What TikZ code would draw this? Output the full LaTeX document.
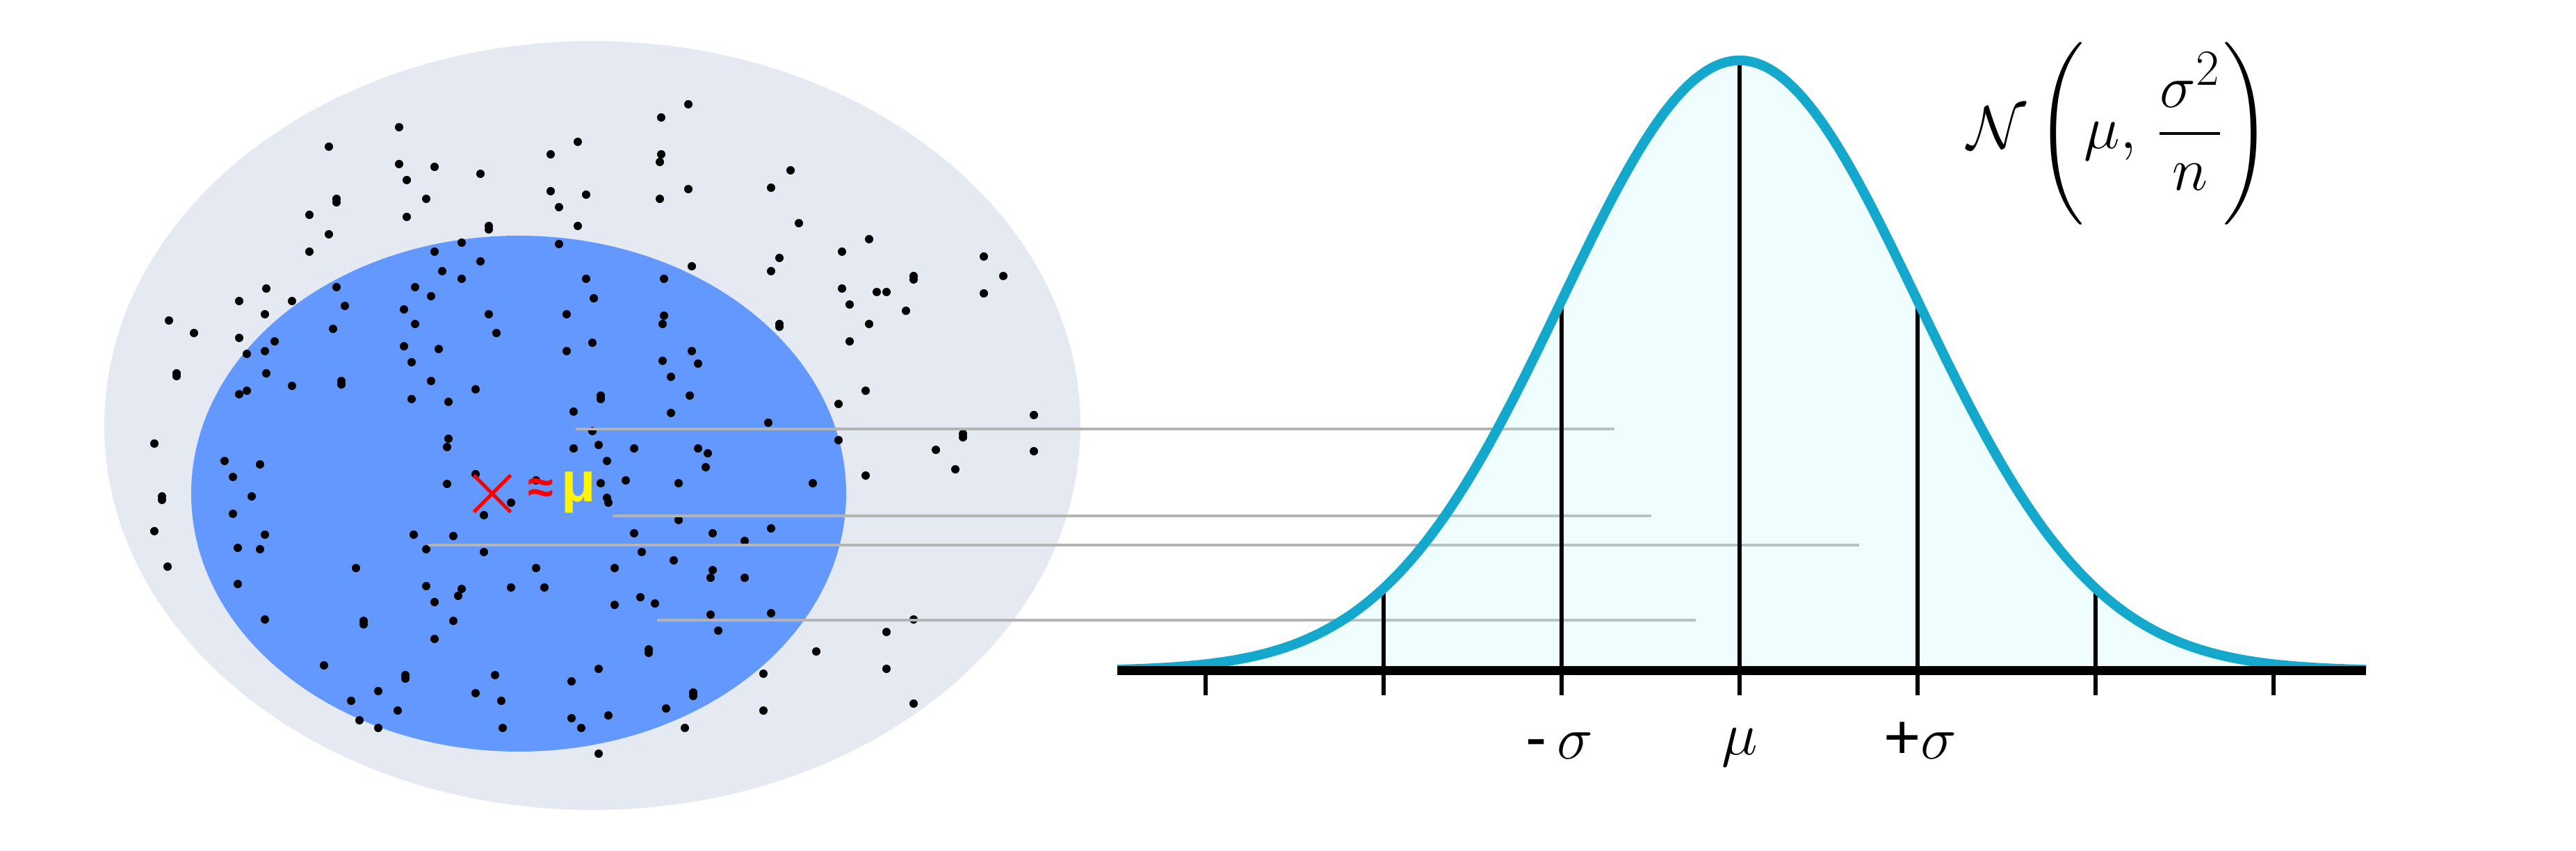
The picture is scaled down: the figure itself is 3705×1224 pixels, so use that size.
\documentclass[tikz,border=0pt]{standalone}
\usepackage{amsmath}
\usepackage{fontspec}
\usepackage{tikz}
\usetikzlibrary{shapes.misc}
\newfontfamily\labelfont{Liberation Sans}

\definecolor{popcol}{HTML}{E5E9F2}
\definecolor{samplecol}{HTML}{6399FF}
\definecolor{bellcol}{HTML}{14A8CC}
\definecolor{bellfill}{HTML}{B4F5FA}
\definecolor{guidecol}{HTML}{B4B4B4}
\definecolor{meancol}{HTML}{FFF500}

\tikzset{
  dot/.style={fill=black},
  guide/.style={draw=guidecol, line width=0.45mm},
  bell/.style={draw=bellcol, line width=1.4mm, line join=round},
  sdline/.style={draw=black, line width=0.55mm},
  axis/.style={draw=black, line width=1.3mm},
  lbl/.style={font=\fontsize{26}{30}\selectfont, inner sep=0pt}
}

\begin{document}
\begin{tikzpicture}[x=0.1mm, y=-0.1mm]
  \useasboundingbox (0,0) rectangle (3705,1224);
  % population and sample
  \fill[popcol] (852,612) ellipse [x radius=70.2mm, y radius=55.3mm];
  \fill[samplecol] (746,710) ellipse [x radius=47.1mm, y radius=37.1mm];
  \foreach \x/\y in {574/183, 473/211, 831/204, 792/222, 574/236, 625/240, 585/259, 691/250,
      484/286, 484/291, 613/286, 792/275, 843/280, 804/298, 445/309, 585/312, 703/325, 703/330,
      831/325, 473/337, 664/349, 804/351, 445/362, 625/362, 691/376, 636/390, 664/401, 843/401,
      484/413, 597/413, 383/415, 344/433, 420/433, 620/426, 496/440, 581/445, 381/452, 703/452,
      815/452, 243/461, 597/466, 479/473, 279/479, 714/479, 344/486, 395/491, 581/498, 381/505,
      355/509, 631/502, 815/505, 592/521, 254/537, 254/541, 383/537, 491/548, 491/553, 420/555,
      620/548, 684/560, 355/562, 344/567, 592/574, 645/578, 825/592,
      990/150, 951/169, 951/222, 949/233, 1137/245, 1109/270, 990/272, 949/286, 1149/321,
      1250/344, 1211/362, 1415/369, 1121/371, 995/383, 1109/390, 1314/397, 1314/402, 1443/397,
      955/401, 854/429, 1211/415, 1261/420, 1275/420, 1415/422, 1222/438, 1303/447, 955/454,
      953/466, 1121/466, 1121/470, 1250/466, 852/493, 1222/491, 995/505, 953/519, 1004/523,
      965/542, 1245/562, 864/569, 864/574, 992/569, 1206/581, 1487/597, 965/594, 1105/608,
      222/638, 645/631, 643/643, 825/645, 323/663, 374/668, 335/686, 684/682, 643/696, 771/691,
      735/723, 233/714, 233/719, 362/714, 335/739, 696/741, 222/764, 381/769, 595/769, 652/771,
      342/788, 374/790, 613/790, 696/794, 241/815, 512/817, 771/817, 342/840, 613/843, 664/847,
      659/857, 735/845, 783/845, 625/866, 381/891, 523/893, 523/898, 652/893, 625/919, 466/957,
      583/971, 583/976, 712/971, 822/980, 544/994, 505/1008, 684/997, 721/1008, 572/1022,
      517/1036, 544/1047, 723/1047, 822/1033, 836/1047,
      852/620, 861/640, 912/645, 1004/645, 1018/652, 1206/633, 1385/624, 1385/629, 1346/647,
      1487/649, 873/663, 1015/672, 1374/675, 1245/684, 864/695, 900/691, 976/695, 1169/695,
      873/716, 875/723, 976/748, 912/767, 1025/767, 1109/760, 1071/778, 923/794, 969/806,
      884/817, 1025/820, 1022/831, 1071/831, 921/859, 942/868, 884/870, 1022/884, 1109/882,
      1314/891, 1033/907, 1275/909, 933/934, 933/939, 1174/937, 861/962, 1098/969, 1275/962,
      997/996, 997/1001, 958/1019, 1098/1022, 1314/1012, 875/1029, 985/1047, 861/1084}
    \fill[dot] (\x,\y) circle (0.6mm);
  % sample mean
  \node[draw=red, cross out, line width=0.5mm, minimum size=4.8mm, inner sep=0pt] (xbar) at (708,710) {};
  \node[text=red, font=\labelfont\bfseries\fontsize{19}{22}\selectfont, inner sep=0pt] (approx) at (778,706) {≈};
  \node[text=meancol, font=\labelfont\bfseries\fontsize{23}{26}\selectfont, inner sep=0pt, anchor=base] (mean) at (832,722) {μ};
  % guide lines to the curve
  \foreach \i/\xa/\xb/\y in {1/828/2322/617, 2/881/2375/742, 3/616/2674/784, 4/945/2439/892} {
    \coordinate (s\i) at (\xa,\y);
    \coordinate (e\i) at (\xb,\y);
    \draw[guide] (s\i) -- (e\i);
  }
  % normal curve
  \fill[bellfill, fill opacity=0.22] (1607,965) -- plot[domain=1607:3403, samples=241]
    (\x, {965-878*exp(-0.5*((\x-2502)/256)^2)}) -- (3403,965) -- cycle;
  \foreach \k in {-2,-1,0,1,2}
    \draw[sdline] (2502+\k*256, {965-878*exp(-0.5*\k*\k)}) -- (2502+\k*256, 1000);
  \foreach \k in {-3,3}
    \draw[sdline] (2502+\k*256, 965) -- (2502+\k*256, 1000);
  \draw[bell] plot[domain=1607:3403, samples=241]
    (\x, {965-878*exp(-0.5*((\x-2502)/256)^2)});
  \draw[axis] (1607,965) -- (3403,965);
  % labels
  \node[lbl, anchor=base] (lminus) at (2243,1092) {{\labelfont -}\,$\sigma$};
  \node[lbl, anchor=base] (lmu) at (2502,1086) {$\mu$};
  \node[lbl, anchor=base] (lplus) at (2762,1092) {{\labelfont +}$\sigma$};
  \node[font=\fontsize{28}{32}\selectfont, inner sep=0pt] (dist) at (3048,192)
    {$\mathcal{N}\left(\mu,\, \dfrac{\sigma^2}{n}\right)$};
\end{tikzpicture}
\end{document}
